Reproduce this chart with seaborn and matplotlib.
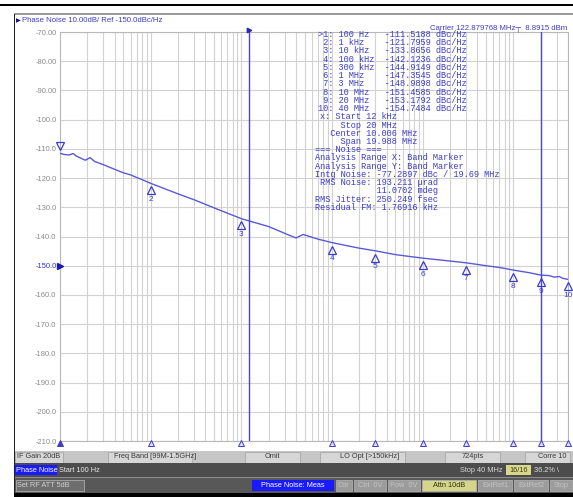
import matplotlib
matplotlib.use("Agg")
import matplotlib.pyplot as plt
import matplotlib.transforms as mtransforms
from matplotlib.patches import Rectangle
import seaborn as sns

# ---- trace: phase noise vs offset frequency ----
freq_hz = [100, 110, 125, 140, 150, 170, 190, 215, 240, 300, 400, 500, 600, 700, 800,
           1000, 2000, 3000, 5000, 10000, 20000, 30000, 40000, 48000, 70000,
           100000, 200000, 300000, 500000, 700000, 1e6, 2e6, 3e6, 5e6, 7e6,
           1e7, 1.5e7, 2e7, 2.5e7, 2.8e7, 3.2e7, 3.5e7, 4e7]
level_dbc = [-111.5, -111.9, -112.1, -111.6, -112.4, -113.2, -113.9, -113.0, -114.3, -115.4,
             -117.0, -118.2, -118.9, -119.8, -120.5,
             -121.8, -125.4, -127.4, -130.2, -133.9, -136.6, -138.9, -140.5, -139.3, -140.9,
             -142.1, -144.0, -144.9, -146.2, -146.8, -147.4, -148.4, -149.0, -150.0, -150.6,
             -151.5, -152.4, -153.2, -153.4, -153.9, -153.7, -154.3, -154.7]

# ---- markers ----
marker_freq_hz = [100, 1e3, 1e4, 1e5, 3e5, 1e6, 3e6, 1e7, 2e7, 4e7]
marker_freq_text = ["100 Hz", "1 kHz", "10 kHz", "100 kHz", "300 kHz",
                    "1 MHz", "3 MHz", "10 MHz", "20 MHz", "40 MHz"]
marker_level = [-111.5188, -121.7959, -133.8656, -142.1236, -144.9149,
                -147.3545, -148.9898, -151.4585, -153.1792, -154.7484]

band_start_hz = 12e3
band_stop_hz = 20e6

y_ticks = list(range(-70, -211, -10))
ref_level = -150

noise_lines = [
    "x: Start 12 kHz",
    "    Stop 20 MHz",
    "  Center 10.006 MHz",
    "    Span 19.988 MHz",
    "=== Noise ===",
    "Analysis Range X: Band Marker",
    "Analysis Range Y: Band Marker",
    "Intg Noise: -77.2897 dBc / 19.69 MHz",
    " RMS Noise: 193.211 \u00b5rad",
    "            11.0702 mdeg",
    "RMS Jitter: 250.249 fsec",
    "Residual FM: 1.76916 kHz",
]

status_row1 = [("IF Gain 20dB", 15, 63), ("Freq Band [99M-1.5GHz]", 108, 192),
               ("Omit", 245, 300), ("LO Opt [>150kHz]", 320, 405),
               ("724pts", 445, 500), ("Corre 10", 525, 570)]

W, H = 573, 497
BLUE = "#3c3cc8"
TRACE = "#5a5ad6"
MONO = "Liberation Mono"
SANS = "Liberation Sans"

sns.set_style("white")
plt.rcParams["font.family"] = [SANS, "DejaVu Sans"]

fig = plt.figure(figsize=(W / 100, H / 100), dpi=100)
fig.patch.set_facecolor("white")

L, R, T, B = 60, 568, 32, 441
ax = fig.add_axes([L / W, 1 - B / H, (R - L) / W, (B - T) / H])


def px_rect(x0, y0, x1, y1, **kw):
    fig.add_artist(Rectangle((x0 / W, 1 - y1 / H), (x1 - x0) / W, (y1 - y0) / H,
                             transform=fig.transFigure, **kw))


def px_text(x, y, s, **kw):
    fig.text(x / W, 1 - y / H, s, **kw)


ax.set_xscale("log")
ax.set_xlim(100, 4e7)
ax.set_ylim(-210, -70)

# log grid: every integer multiple within each decade
grid_x = [m * 10 ** d for d in range(2, 8) for m in range(1, 10) if 100 <= m * 10 ** d <= 4e7]
for gx in grid_x:
    ax.axvline(gx, color="#d2d2d2", lw=0.8, zorder=0)
for gy in y_ticks:
    ax.axhline(gy, color="#d2d2d2", lw=0.8, zorder=0)

ax.set_xticks([])
ax.set_xticks([], minor=True)
ax.set_yticks(y_ticks)
ax.set_yticklabels([f"{v:.2f}" if abs(v) < 100 else f"{v:.1f}" for v in y_ticks])
ax.tick_params(axis="y", length=0, pad=2.5, labelsize=5.4, labelcolor="#8a8a8a")
for lab, v in zip(ax.get_yticklabels(), y_ticks):
    if v == ref_level:
        lab.set_color("#3030d0")
for s in ax.spines.values():
    s.set_color("#b8b8b8")
    s.set_linewidth(0.8)

# trace
sns.lineplot(x=freq_hz, y=level_dbc, ax=ax, color=TRACE, linewidth=1.0, zorder=3)

# band markers
for bx in (band_start_hz, band_stop_hz):
    ax.axvline(bx, color="#4646d8", lw=1.0, zorder=4)
ax.plot(band_start_hz, -69.2, marker=">", ms=3.2, color="#2a2ab0", clip_on=False, zorder=5)

# reference level pointer
ax.plot(0.0, ref_level, marker=">", ms=4, color="#1a1ab8", clip_on=False,
        transform=ax.get_yaxis_transform(), zorder=5)

# trace markers
tri_below = mtransforms.offset_copy(ax.transData, fig=fig, x=0, y=-4.9, units="points")
num_below = mtransforms.offset_copy(ax.transData, fig=fig, x=0, y=-11.6, units="points")
tri_above = mtransforms.offset_copy(ax.transData, fig=fig, x=0, y=4.9, units="points")
axis_tri = mtransforms.offset_copy(ax.transData, fig=fig, x=0, y=-1.5, units="points")
for i, (f, v) in enumerate(zip(marker_freq_hz, marker_level), start=1):
    if i == 1:
        ax.plot(f, v, marker="v", ms=6.2, mfc="none", mec=BLUE, mew=0.9,
                transform=tri_above, clip_on=False, zorder=6)
    else:
        ax.plot(f, v, marker="^", ms=6.2, mfc="none", mec=BLUE, mew=0.9,
                transform=tri_below, clip_on=False, zorder=6)
        ax.text(f, v, str(i), transform=num_below, ha="center", va="center",
                fontsize=6.0, color=BLUE, clip_on=False, zorder=6)
    # marker position indicator along the frequency axis
    ax.plot(f, -210, marker="^", ms=5, mfc=BLUE if i == 1 else "#e0e0f8",
            mec=BLUE, mew=0.7, clip_on=False, zorder=6, transform=axis_tri)

# ---- marker table and noise readout ----
x0 = 318
y = 34.5
dy = 8.23
for i, (ft, v) in enumerate(zip(marker_freq_text, marker_level), start=1):
    num = f">{i}:" if i == 1 else f"{i:>2}:"
    line = f"{num:>3} {ft:<8} {v:.4f} dBc/Hz"
    px_text(x0, y, line, fontsize=6.2, family=MONO, color=BLUE, va="center")
    y += dy
for k, line in enumerate(noise_lines):
    xs = 320 if k < 4 else 315
    px_text(xs, y, line, fontsize=6.2, family=MONO, color=BLUE, va="center")
    y += dy

# carrier readout
px_text(567, 28, "Carrier 122.879768 MHz\u252c  8.8915 dBm", fontsize=5.6,
        color=BLUE, ha="right", va="center")

# ---- window chrome ----
px_rect(0, 4, W, 6, color="black", lw=0)
px_rect(14, 13.5, W, 14.5, color="#9a9a9a", lw=0)
px_rect(13.5, 14, 15, H, color="#202020", lw=0)
px_text(16, 20.5, "\u25b6", fontsize=4.5, color="#141480", va="center", family="DejaVu Sans")
px_text(22, 20.5, "Phase Noise 10.00dB/ Ref -150.0dBc/Hz", fontsize=5.6, color=BLUE, va="center")

# status row 1
px_rect(15, 451, W, 463, color="#c6c6c6", lw=0)
for txt, a, b in status_row1:
    px_rect(a, 452, b, 462.5, facecolor="#d6d6d6", edgecolor="#a8a8a8", lw=0.6)
px_text(17, 457, "IF Gain 20dB", fontsize=5.3, color="#3a3a3a", va="center")
px_text(155, 457, "Freq Band [99M-1.5GHz]", fontsize=5.3, color="#3a3a3a", va="center", ha="center")
px_text(272, 457, "Omit", fontsize=5.3, color="#3a3a3a", va="center", ha="center")
px_text(370, 457, "LO Opt [>150kHz]", fontsize=5.3, color="#3a3a3a", va="center", ha="center")
px_text(473, 457, "724pts", fontsize=5.3, color="#3a3a3a", va="center", ha="center")
px_text(567, 457, "Corre 10", fontsize=5.3, color="#3a3a3a", va="center", ha="right")

# status row 2
px_rect(15, 463, W, 477, color="#4c4c4c", lw=0)
px_rect(15, 465, 57, 475, color="#1a1aff", lw=0)
px_text(16, 470, "Phase Noise", fontsize=5.3, color="white", va="center")
px_text(59, 470, "Start 100 Hz", fontsize=5.3, color="#e8e8e8", va="center")
px_text(502, 470, "Stop 40 MHz", fontsize=5.3, color="#d8d8d8", va="center", ha="right")
px_rect(506, 465, 531, 475, color="#d8d88a", lw=0)
px_text(518.5, 470, "16/16", fontsize=5.3, color="#404020", va="center", ha="center")
px_text(534, 470, "36.2% \\", fontsize=5.3, color="#e0e0e0", va="center")

# status row 3
px_rect(15, 477, W, 493, color="#585858", lw=0)
px_rect(15, 477, W, 478, color="#8e8e8e", lw=0)
px_rect(15.5, 480, 84, 491, facecolor="#6e6e6e", edgecolor="#a0a0a0", lw=0.7)
px_text(17, 485.5, "Set RF ATT 5dB", fontsize=5.3, color="#d0d0d0", va="center")
px_rect(252, 480, 334, 491, color="#1a1aff", lw=0)
px_text(293, 485.5, "Phase Noise: Meas", fontsize=5.3, color="white", va="center", ha="center")
buttons = [("Cor", 336, 352, "#9c9c9c", "#c4c4c4"), ("Ctrl  0V", 354, 386, "#9c9c9c", "#c4c4c4"),
           ("Pow  0V", 388, 420, "#9c9c9c", "#c4c4c4"), ("Attn 10dB", 422, 476, "#d6d68a", "#303010"),
           ("ExtRef1", 478, 512, "#9c9c9c", "#c4c4c4"), ("ExtRef2", 514, 548, "#9c9c9c", "#c4c4c4"),
           ("Stop", 550, 572, "#9c9c9c", "#c4c4c4")]
for txt, a, b, bg, fg in buttons:
    px_rect(a, 480, b, 491, facecolor=bg, edgecolor="#b8b8b8", lw=0.5)
    px_text((a + b) / 2, 485.5, txt, fontsize=5.3, color=fg, va="center", ha="center")

px_rect(14, 493, W, H, color="black", lw=0)

fig.savefig("out.png", dpi=100)
